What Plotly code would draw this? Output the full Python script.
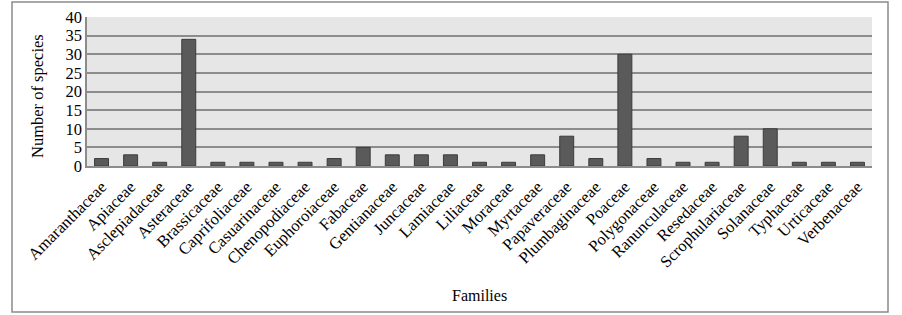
import plotly.graph_objects as go

families = ["Amaranthaceae", "Apiaceae", "Asclepiadaceae", "Asteraceae", "Brassicaceae",
            "Caprifoliaceae", "Casuarinaceae", "Chenopodiaceae", "Euphoroiaceae", "Fabaceae",
            "Gentianaceae", "Juncaceae", "Lamiaceae", "Liliaceae", "Moraceae", "Myrtaceae",
            "Papaveraceae", "Plumbaginaceae", "Poaceae", "Polygonaceae", "Ranunculaceae",
            "Resedaceae", "Scrophulariaceae", "Solanaceae", "Typhaceae", "Urticaceae",
            "Verbenaceae"]
species = [2, 3, 1, 34, 1, 1, 1, 1, 2, 5, 3, 3, 3, 1, 1, 3, 8, 2, 30, 2, 1, 1, 8, 10, 1, 1, 1]
y_ticks = [0, 5, 10, 15, 20, 25, 30, 35, 40]

W, H = 902, 315
L, R, T, B = 87, 30, 17, 149

fig = go.Figure(go.Bar(
    x=families, y=species,
    marker=dict(color="#5a5a5a", line=dict(color="#3c3c3c", width=1)),
))

pw = W - L - R
ph = H - T - B
fig.add_shape(type="rect", xref="paper", yref="paper",
              x0=(12 - L) / pw, x1=(888 - L) / pw,
              y0=(H - B - 312) / ph, y1=(H - B - 2) / ph,
              line=dict(color="#8a8a8a", width=1.5), fillcolor="rgba(0,0,0,0)", layer="below")

fig.add_annotation(text="Families", xref="paper", yref="paper",
                   x=0.5, y=(H - B - 295) / ph, xanchor="center", yanchor="middle",
                   showarrow=False, font=dict(size=16))
fig.add_annotation(text="Number of species", xref="paper", yref="paper",
                   x=(37 - L) / pw, y=(H - B - 96) / ph, xanchor="center", yanchor="middle",
                   textangle=-90, showarrow=False, font=dict(size=16.5))

fig.update_layout(
    width=W, height=H,
    margin=dict(l=L, r=R, t=T, b=B, autoexpand=False),
    paper_bgcolor="white", plot_bgcolor="#e6e6e6",
    bargap=0.52,
    showlegend=False,
    font=dict(family="Liberation Serif", color="black", size=16),
    xaxis=dict(tickangle=-45, showgrid=False, ticks="", tickfont=dict(size=16.5),
               automargin=False, ticklabelstandoff=3,
               showline=True, linecolor="#8c8c8c", linewidth=1.5),
    yaxis=dict(range=[0, 40], tickvals=y_ticks, showgrid=True, gridcolor="#8c8c8c",
               gridwidth=1.5, zeroline=False, ticks="", tickfont=dict(size=16.5),
               automargin=False,
               showline=True, linecolor="#8c8c8c", linewidth=1.5),
)

fig.write_html("out.html", config={"displayModeBar": False},
               post_script="document.body.style.margin='0';document.body.style.overflow='hidden';")
